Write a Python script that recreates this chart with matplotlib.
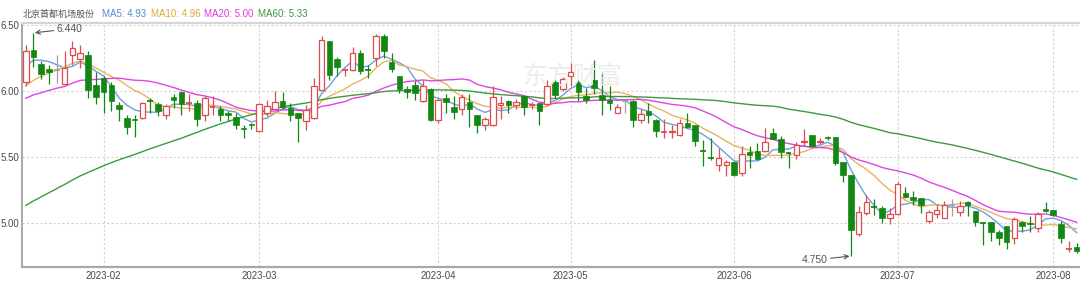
import numpy as np
import pandas as pd
import matplotlib
matplotlib.use("Agg")
import matplotlib.pyplot as plt

plt.rcParams["font.family"] = ["Liberation Sans", "Noto Sans CJK SC", "DejaVu Sans"]

# ---------- data ----------
# closes before the visible window (estimated from where the MA lines start)
prior_closes = [
    4.20, 4.25, 4.22, 4.30, 4.35, 4.33, 4.40, 4.45, 4.42, 4.48,
    4.50, 4.55, 4.52, 4.58, 4.60, 4.62, 4.65, 4.68, 4.72, 4.75,
    4.55, 4.50, 4.58, 4.62, 4.60, 4.68, 4.65, 4.72, 4.80, 4.85,
    4.95, 5.05, 5.10, 5.20, 5.25, 5.30, 5.40, 5.50, 5.55, 5.65,
    5.75, 5.80, 5.78, 5.85, 5.90, 5.82, 5.88, 5.92, 5.90, 5.90,
    5.85, 5.82, 5.90, 5.93, 5.95, 6.05, 6.12, 6.20, 6.28,
]

opens = [
    6.07, 6.31, 6.205, 6.17, 6.16, 6.055, 6.275, 6.245, 6.275, 6.045,
    6.10, 6.045, 5.895, 5.795, 5.79, 5.795, 5.925, 5.905, 5.82, 5.955,
    5.99, 5.905, 5.91, 5.82, 5.875, 5.865, 5.835, 5.805, 5.72, 5.75,
    5.70, 5.83, 5.865, 5.925, 5.87, 5.83, 5.775, 5.795, 6.01, 6.375,
    6.245, 6.155, 6.155, 6.29, 6.165, 6.25, 6.42, 6.22, 6.117, 6.016,
    6.045, 5.925, 6.016, 5.777, 5.95, 5.875, 5.865, 5.92, 5.82, 5.74,
    5.74, 5.895, 5.925, 5.895, 5.96, 5.89, 5.91, 5.898, 6.065, 6.016,
    6.112, 6.067, 5.96, 6.082, 5.97, 5.935, 5.835, 5.923, 5.923, 5.777,
    5.848, 5.777, 5.688, 5.69, 5.664, 5.755, 5.74, 5.548, 5.495, 5.44,
    5.44, 5.462, 5.377, 5.535, 5.545, 5.545, 5.684, 5.638, 5.535, 5.518,
    5.613, 5.67, 5.613, 5.655, 5.655, 5.46, 5.36, 4.915, 5.077, 5.12,
    5.115, 5.04, 5.065, 5.225, 5.20, 5.19, 5.015, 5.067, 5.04, 5.137,
    5.085, 5.16, 5.092, 5.005, 5.005, 4.93, 4.975, 4.89, 5.005, 4.998,
    4.965, 5.105, 5.097, 4.995, 4.805, 4.82,
]
highs = [
    6.35, 6.44, 6.225, 6.20, 6.27, 6.30, 6.38, 6.345, 6.30, 6.14,
    6.11, 6.07, 5.92, 5.82, 5.82, 5.915, 5.95, 5.915, 5.90, 5.975,
    6.00, 5.98, 5.935, 5.96, 5.96, 5.885, 5.845, 5.835, 5.74, 5.755,
    5.91, 5.935, 6.00, 5.99, 5.91, 5.835, 5.89, 6.10, 6.42, 6.38,
    6.26, 6.175, 6.335, 6.31, 6.195, 6.435, 6.435, 6.29, 6.117, 6.035,
    6.075, 6.08, 6.023, 5.95, 5.975, 5.96, 5.975, 5.975, 5.82, 5.805,
    6.035, 5.965, 5.935, 5.94, 5.96, 5.92, 5.91, 6.08, 6.08, 6.107,
    6.21, 6.082, 6.02, 6.238, 6.14, 6.04, 5.898, 5.935, 5.935, 5.865,
    5.91, 5.785, 5.79, 5.74, 5.79, 5.83, 5.74, 5.625, 5.645, 5.57,
    5.48, 5.47, 5.584, 5.58, 5.603, 5.72, 5.72, 5.66, 5.537, 5.613,
    5.71, 5.67, 5.645, 5.66, 5.655, 5.465, 5.36, 5.13, 5.215, 5.18,
    5.125, 5.11, 5.307, 5.27, 5.24, 5.19, 5.10, 5.143, 5.167, 5.18,
    5.167, 5.167, 5.092, 5.005, 5.005, 4.945, 4.98, 5.045, 5.015, 5.055,
    5.08, 5.16, 5.097, 5.015, 4.865, 4.85,
]
lows = [
    6.04, 6.18, 6.09, 6.056, 6.06, 6.05, 6.20, 6.175, 5.95, 5.90,
    5.83, 5.85, 5.77, 5.675, 5.65, 5.79, 5.835, 5.81, 5.79, 5.87,
    5.82, 5.845, 5.735, 5.77, 5.82, 5.77, 5.77, 5.71, 5.645, 5.71,
    5.695, 5.81, 5.86, 5.865, 5.77, 5.615, 5.705, 5.79, 6.005, 6.08,
    6.115, 6.115, 6.15, 6.125, 6.10, 6.19, 6.25, 6.14, 5.985, 5.95,
    5.935, 5.915, 5.77, 5.755, 5.835, 5.785, 5.82, 5.73, 5.68, 5.705,
    5.735, 5.785, 5.83, 5.865, 5.82, 5.86, 5.74, 5.885, 5.945, 6.00,
    6.037, 5.925, 5.91, 5.98, 5.82, 5.855, 5.83, 5.835, 5.73, 5.755,
    5.755, 5.65, 5.64, 5.64, 5.66, 5.72, 5.58, 5.43, 5.48, 5.395,
    5.355, 5.355, 5.355, 5.42, 5.48, 5.538, 5.638, 5.49, 5.42, 5.485,
    5.58, 5.578, 5.595, 5.63, 5.44, 5.31, 4.75, 4.90, 5.06, 5.06,
    5.00, 4.99, 5.06, 5.19, 5.14, 5.075, 5.00, 5.035, 5.035, 5.055,
    5.055, 5.055, 4.98, 4.83, 4.86, 4.83, 4.80, 4.84, 4.93, 4.93,
    4.93, 5.08, 5.05, 4.85, 4.78, 4.775,
]
closes = [
    6.30, 6.26, 6.125, 6.145, 6.16, 6.175, 6.325, 6.29, 6.005, 5.955,
    5.99, 5.925, 5.86, 5.73, 5.78, 5.91, 5.92, 5.85, 5.885, 5.935,
    5.905, 5.91, 5.785, 5.95, 5.88, 5.817, 5.817, 5.74, 5.71, 5.74,
    5.90, 5.885, 5.92, 5.88, 5.817, 5.795, 5.855, 6.04, 6.385, 6.12,
    6.18, 6.16, 6.29, 6.15, 6.16, 6.42, 6.30, 6.17, 6.016, 5.99,
    5.985, 6.04, 5.777, 5.93, 5.915, 5.84, 5.953, 5.865, 5.74, 5.79,
    5.953, 5.91, 5.895, 5.915, 5.88, 5.895, 5.848, 6.04, 5.97, 6.09,
    6.145, 5.99, 5.93, 6.024, 5.93, 5.91, 5.878, 5.923, 5.78, 5.825,
    5.817, 5.70, 5.692, 5.70, 5.76, 5.73, 5.62, 5.543, 5.49, 5.495,
    5.462, 5.36, 5.52, 5.518, 5.487, 5.613, 5.638, 5.535, 5.53, 5.594,
    5.62, 5.584, 5.62, 5.64, 5.455, 5.36, 4.95, 5.08, 5.16, 5.115,
    5.04, 5.065, 5.295, 5.20, 5.175, 5.14, 5.08, 5.10, 5.14, 5.137,
    5.13, 5.14, 5.01, 5.00, 4.93, 4.89, 4.855, 5.03, 4.98, 4.99,
    5.065, 5.09, 5.057, 4.89, 4.808, 4.79,
]

# trading days per month shown (Jan 2023 partial ... Aug 2023 partial)
month_labels = ["2023-01", "2023-02", "2023-03", "2023-04", "2023-05", "2023-06", "2023-07", "2023-08"]
month_days = [10, 20, 23, 17, 21, 21, 20, 4]

ma_windows = [5, 10, 20, 60]
ma_legend = ["MA5: 4.93", "MA10: 4.96", "MA20: 5.00", "MA60: 5.33"]
stock_name = "北京首都机场股份"

# ---------- figure ----------
ma_colors = ["#6f9fe0", "#e8b45e", "#e044e4", "#3d9a3d"]
legend_colors = ["#5088d8", "#e3a534", "#dd3bdd", "#3a963a"]
up_col = "#df4b4e"
down_col = "#138713"
flat_col = "#a0a0a0"

n = len(closes)
x = np.arange(n)
o = np.array(opens)
h = np.array(highs)
l = np.array(lows)
c = np.array(closes)

fig = plt.figure(figsize=(10.8, 2.83), dpi=100)
ax = fig.add_axes([22 / 1080, 1 - 266.7 / 283, 1058 / 1080, 244 / 283])

ax.set_xlim(-0.475, n - 0.57)
ax.set_ylim(4.669, 6.517)

# gridlines
ticks_x = np.cumsum(month_days)[:-1]
ax.set_xticks(ticks_x)
ax.set_xticklabels(month_labels[1:])
ax.set_yticks([5.0, 5.5, 6.0, 6.5])
ax.set_yticklabels(["5.00", "5.50", "6.00", "6.50"])
ax.grid(True, color="#d2d2d2", linestyle=(0, (2, 2)), linewidth=0.8)
ax.set_axisbelow(True)
ax.tick_params(length=0, labelsize=7, colors="#4a4a4a", pad=3)
ax.tick_params(axis="y", pad=2)

for side in ["right"]:
    ax.spines[side].set_visible(False)
ax.spines["top"].set_color("#d6d6d6")
ax.spines["top"].set_linewidth(1.6)
ax.spines["left"].set_color("#a8a8a8")
ax.spines["left"].set_linewidth(1.4)
ax.spines["bottom"].set_color("#a8a8a8")
ax.spines["bottom"].set_linewidth(1.6)

# watermark
fig.text(0.53, 1 - 77 / 283, "东方财富", family=["Noto Sans CJK SC"], fontsize=18,
         color="#ececec", ha="center", va="center", zorder=0)

# moving averages
all_closes = pd.Series(prior_closes + closes)
for w, col in zip(ma_windows, ma_colors):
    ma = all_closes.rolling(w).mean().values[-n:]
    ax.plot(x, ma, color=col, linewidth=1.0, zorder=2)

# candles
bw = 0.72
for i in range(n):
    if c[i] > o[i]:
        col = up_col
    elif c[i] < o[i]:
        col = down_col
    else:
        col = flat_col
    ax.vlines(x[i], l[i], h[i], color=col, linewidth=0.9, zorder=3)
    if abs(c[i] - o[i]) < 0.006:
        ax.hlines((o[i] + c[i]) / 2, x[i] - bw / 2, x[i] + bw / 2, color=col, linewidth=1.3, zorder=4)
    elif c[i] > o[i]:
        ax.bar(x[i], c[i] - o[i], bottom=o[i], width=bw, facecolor="white",
               edgecolor=col, linewidth=0.9, zorder=4)
    else:
        ax.bar(x[i], o[i] - c[i], bottom=c[i], width=bw, facecolor=col,
               edgecolor=col, linewidth=0.5, zorder=4)

# high / low markers
ih = int(np.argmax(h))
il = int(np.argmin(l))
ax.annotate("%.3f" % h[ih], xy=(ih, h[ih]), xytext=(23, 4), textcoords="offset pixels",
            ha="left", va="center", fontsize=7.5, color="#555555",
            arrowprops=dict(arrowstyle="->", color="#555555", lw=0.8, shrinkA=0, shrinkB=1))
ax.annotate("%.3f" % l[il], xy=(il, l[il]), xytext=(-23, -4), textcoords="offset pixels",
            ha="right", va="center", fontsize=7.5, color="#555555",
            arrowprops=dict(arrowstyle="->", color="#555555", lw=0.8, shrinkA=0, shrinkB=1))

# header line
ty = 1 - 14 / 283
fig.text(22.7 / 1080, ty, stock_name, family=["Noto Sans CJK SC"], fontsize=6.5,
         color="#555555", ha="left", va="center")
for txt, col, px in zip(ma_legend, legend_colors, [101.7, 150.7, 204, 257.7]):
    fig.text(px / 1080, ty, txt, fontsize=7, color=col, ha="left", va="center")

plt.savefig("out.png", dpi=100)
